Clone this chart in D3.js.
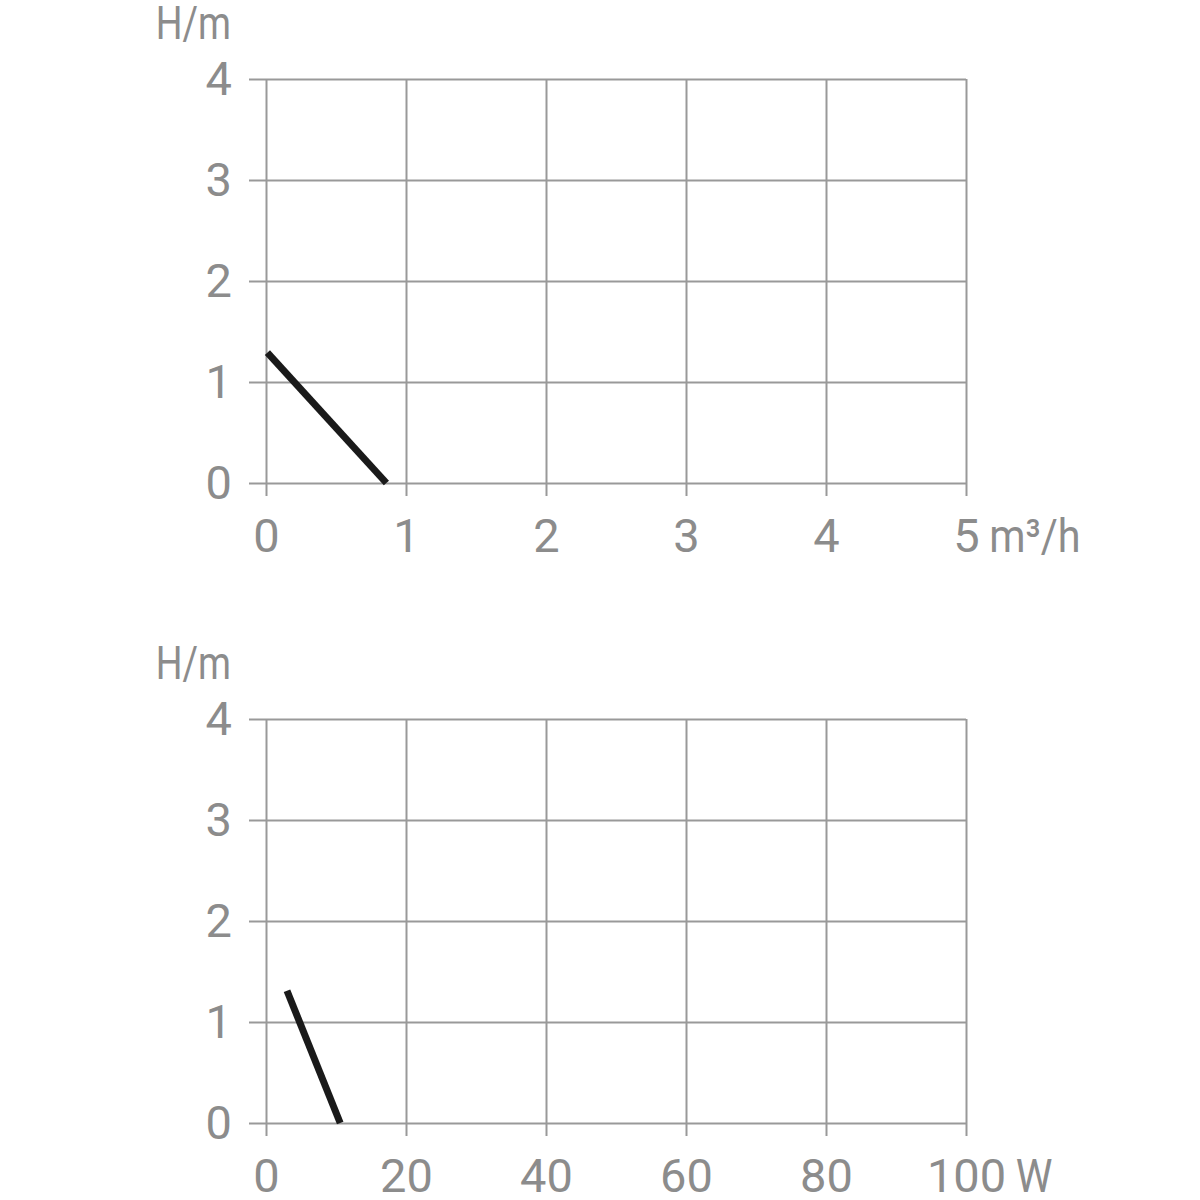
<!DOCTYPE html>
<html>
  <head>
    <meta charset="utf-8" />
    <title>Pump curves</title>
    <script src="https://d3js.org/d3.v7.min.js"></script>
    <style>
      body { margin: 0; background: #fff; }
      text { font-family: Roboto, "Liberation Sans", sans-serif; fill: #8c8c8c; }
    </style>
  </head>
  <body>
    <svg id="viz" width="1200" height="1200"></svg>
    <script>

      // flow chart (H over m3/h)
      var flowTicks = [0, 1, 2, 3, 4, 5];
      var flowCurve = [[0.01, 1.29], [0.86, 0]];

      // power chart (H over W)
      var powerTicks = [0, 20, 40, 60, 80, 100];
      var powerCurve = [[3.0, 1.31], [10.6, 0]];

      var headTicks = [0, 1, 2, 3, 4];

      var svg = d3.select("#viz");
      var fontSize = 47;
      var grey = "#999999";

      // squeeze a text horizontally, the original font is a condensed one
      function condense(sel, k) {
        var w = sel.node().getComputedTextLength();
        sel.attr("textLength", w * k).attr("lengthAdjust", "spacingAndGlyphs");
      }

      function drawChart(top, xMax, xTicks, unit, curve) {
        var left = 266, right = 966;
        var bottom = top + 404;

        var x = d3.scaleLinear().domain([0, xMax]).range([left, right]);
        var y = d3.scaleLinear().domain([0, 4]).range([bottom, top]);

        var g = svg.append("g");

        var yAxis = d3.axisLeft(y)
          .tickValues(headTicks)
          .tickSize(-(right - left + 17))
          .tickPadding(17)
          .tickFormat(d3.format("d"));

        var yg = g.append("g")
          .attr("transform", "translate(" + (left - 17) + ",0)")
          .call(yAxis);

        var xAxis = d3.axisBottom(x)
          .tickValues(xTicks)
          .tickSize(-(bottom - top + 13))
          .tickPadding(24)
          .tickFormat(d3.format("d"));

        var xg = g.append("g")
          .attr("transform", "translate(0," + (bottom + 13) + ")")
          .call(xAxis);

        [yg, xg].forEach(function(a) {
          a.select(".domain").remove();
          a.selectAll("line").attr("stroke", grey).attr("stroke-width", 2);
          a.selectAll("text")
            .attr("font-size", fontSize)
            .attr("fill", "#8c8c8c")
            .attr("font-family", null);
        });
        xg.selectAll("text").attr("y", 23).attr("dy", "0.71em");

        // unit after last x tick
        var lastText = xg.selectAll(".tick text").filter(function(d) { return d === xMax; });
        var bb = lastText.node().getBBox();
        var u = xg.append("text")
          .attr("x", x(xMax) + bb.width / 2 + 10)
          .attr("y", 23)
          .attr("dy", "0.71em")
          .attr("font-size", fontSize)
          .attr("text-anchor", "start")
          .text(unit);
        condense(u, 0.88);

        var h = g.append("text")
          .attr("x", left - 35)
          .attr("y", top - 40)
          .attr("font-size", fontSize)
          .attr("text-anchor", "end")
          .text("H/m");
        condense(h, 0.8);

        var line = d3.line()
          .x(function(d) { return x(d[0]); })
          .y(function(d) { return y(d[1]); });

        g.append("path")
          .datum(curve)
          .attr("d", line)
          .attr("fill", "none")
          .attr("stroke", "#1a1a1a")
          .attr("stroke-width", 7);
      }

      drawChart(79, 5, flowTicks, "m³/h", flowCurve);
      drawChart(719, 100, powerTicks, "W", powerCurve);

    </script>
  </body>
</html>
